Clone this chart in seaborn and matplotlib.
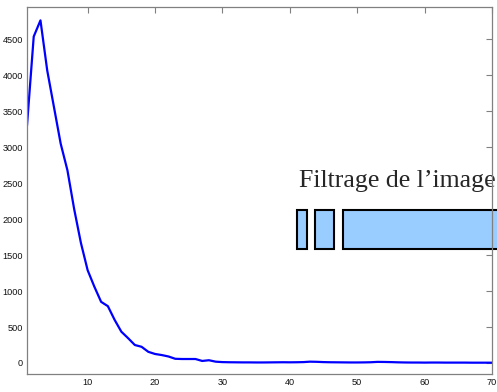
import numpy as np
import pandas as pd
import matplotlib
matplotlib.use("Agg")
import matplotlib.pyplot as plt
import seaborn as sns
from matplotlib.patches import Rectangle

# histogram-like curve, one value per bin (1..70)
bins = list(range(1, 71))
counts = [3300, 4540, 4765, 4070, 3560, 3050, 2680, 2140, 1670, 1290,
          1060, 850, 790, 600, 435, 345, 250, 225, 155, 125,
          110, 90, 58, 55, 55, 55, 28, 38, 18, 12,
          10, 9, 8, 8, 7, 7, 8, 9, 10, 9,
          10, 12, 18, 16, 12, 10, 9, 8, 7, 7,
          8, 10, 15, 14, 12, 9, 7, 6, 6, 5,
          6, 6, 5, 5, 5, 5, 4, 4, 4, 4]

xticks = [10, 20, 30, 40, 50, 60, 70]
yticks = [0, 500, 1000, 1500, 2000, 2500, 3000, 3500, 4000, 4500]

df = pd.DataFrame({"bin": bins, "count": counts})

sns.set_style("white")
plt.rcParams["font.family"] = ["Liberation Sans", "DejaVu Sans"]

fig = plt.figure(figsize=(4.97, 3.92), dpi=100)
ax = fig.add_axes([0.0543, 0.046, 0.9357, 0.936])

sns.lineplot(data=df, x="bin", y="count", ax=ax, color="#0000ff", linewidth=1.6)

ax.set_xlim(1, 70)
ax.set_ylim(-153, 4950)
ax.set_xticks(xticks)
ax.set_yticks(yticks)
ax.set_xlabel("")
ax.set_ylabel("")
ax.tick_params(direction="in", length=4, width=0.8, color="#808080",
               labelsize=6.6, labelcolor="#111111", top=True, right=True, pad=3)
for s in ax.spines.values():
    s.set_color("#808080")
    s.set_linewidth(0.9)
    s.set_zorder(5)

# overlay: title text and blocks (partly cut by the figure edge)
ax.text(0.585, 0.5095, "Filtrage de l\u2019image", transform=ax.transAxes,
        fontsize=18.6, family=["Liberation Serif", "DejaVu Serif"],
        ha="left", va="baseline", clip_on=False, zorder=3)
boxes = [(0.5806, 0.602), (0.619, 0.660), (0.6796, 1.3)]
for x0, x1 in boxes:
    ax.add_patch(Rectangle((x0, 0.3406), x1 - x0, 0.1063, transform=ax.transAxes,
                           facecolor="#99ccff", edgecolor="black", linewidth=1.5,
                           clip_on=False, zorder=3))

fig.savefig("out.png", dpi=100)
